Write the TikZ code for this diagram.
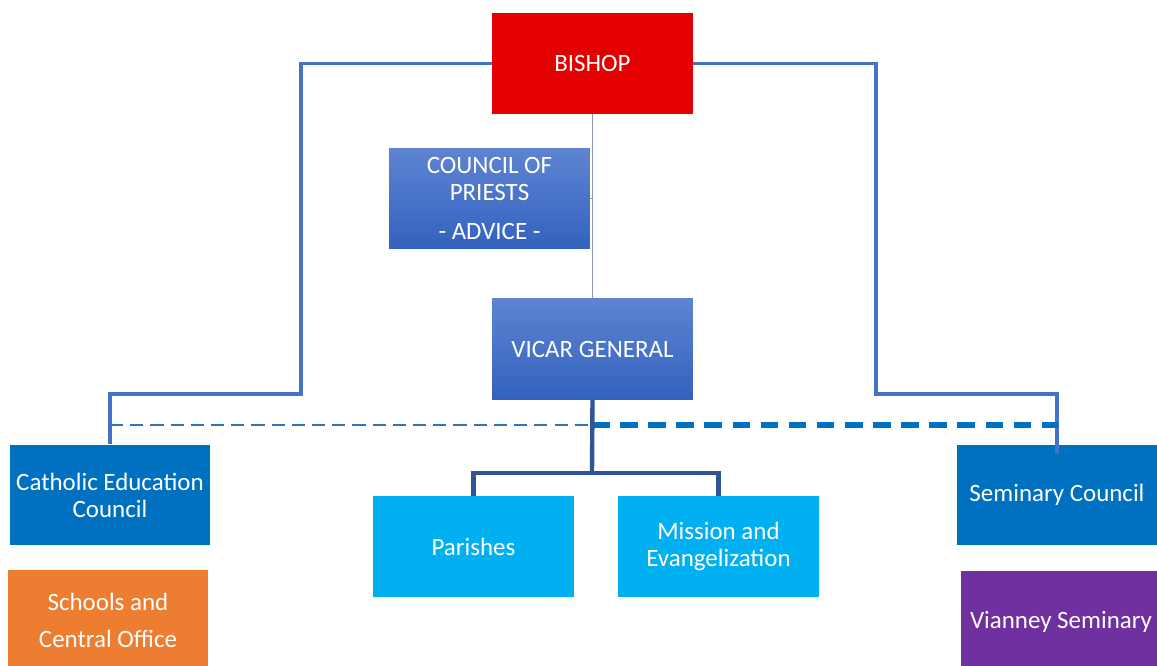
\documentclass[tikz,border=0pt]{standalone}
\usepackage{fontspec}
\setmainfont{Carlito}
\usepackage{xcolor}
\usetikzlibrary{positioning, calc}
\definecolor{bishopRed}{RGB}{228, 0, 0}
\definecolor{vicarTop}{RGB}{94, 132, 210}
\definecolor{vicarBottom}{RGB}{50, 98, 190}
\definecolor{councilBlue}{RGB}{0, 112, 192}
\definecolor{skyBlue}{RGB}{0, 176, 240}
\definecolor{schoolOrange}{RGB}{237, 125, 49}
\definecolor{seminaryPurple}{RGB}{112, 48, 160}
\definecolor{linkBlue}{RGB}{68, 114, 196}
\definecolor{trunkBlue}{RGB}{47, 85, 151}
\definecolor{dashBlue}{RGB}{46, 117, 182}
\definecolor{stemGray}{RGB}{140, 150, 170}

\begin{document}
\begin{tikzpicture}[x=0.02cm, y=-0.02cm]
    \tikzstyle{box} = [rectangle, minimum width=4.02cm, minimum height=2.02cm, inner sep=0pt, text centered, align=center, text=white, font=\fontsize{14.2}{15.3}\selectfont]
    \tikzstyle{link} = [linkBlue, line width=1.8pt]
    \tikzstyle{trunk} = [trunkBlue, line width=2.5pt]
    \tikzstyle{stem} = [stemGray, line width=0.6pt]

    \useasboundingbox (0,0) rectangle (1157,666);

    \node[box, fill=bishopRed] (bishop) at (592.5,63.5) {BISHOP};
    \node[box, top color=vicarTop, bottom color=vicarBottom] (priests) at (489.5,198.5) {COUNCIL OF\\PRIESTS\\[6.8pt]- ADVICE -};
    \node[box, top color=vicarTop, bottom color=vicarBottom] (vicar) at (592.5,349) {VICAR GENERAL};
    \node[box, fill=councilBlue] (education) at (110,495) {Catholic Education\\Council};
    \node[box, fill=schoolOrange] (schools) at (108,620.5) {Schools and\\[6.2pt]Central Office};
    \node[box, fill=skyBlue] (parishes) at (473.5,546.5) {Parishes};
    \node[box, fill=skyBlue] (mission) at (718.5,546.5) {Mission and\\Evangelization};
    \node[box, fill=councilBlue, minimum width=4cm] (seminary) at (1057,495) {Seminary Council};
    \node[box, fill=seminaryPurple, minimum width=4cm] (vianney) at (1061,621.5) {Vianney Seminary};

    \coordinate (leftbend) at (301,394);
    \coordinate (rightbend) at (876,394);
    \coordinate (fork) at (592,473);
    \coordinate (dashleft) at (110,425);
    \coordinate (dashmid) at (592,425);
    \coordinate (dashright) at (1058,425);

    \draw[stem] (bishop.south) -- (vicar.north);
    \draw[stem] (priests.east) -- (priests.east -| bishop.south);
    \draw[link] (bishop.west) -| (leftbend) -| (education.north);
    \draw[link, shorten >=-5.7pt] (bishop.east) -| (rightbend) -| (seminary.north);
    \draw[dashBlue, line width=1.2pt, dash pattern=on 7.5pt off 4pt] (dashleft) -- (dashmid);
    \draw[councilBlue, line width=3.1pt, dash pattern=on 10pt off 6pt] (dashmid) -- (dashright);
    \draw[trunk] (vicar.south) -- (fork);
    \draw[trunk] (parishes.north) |- (fork) -| (mission.north);
\end{tikzpicture}
\end{document}
